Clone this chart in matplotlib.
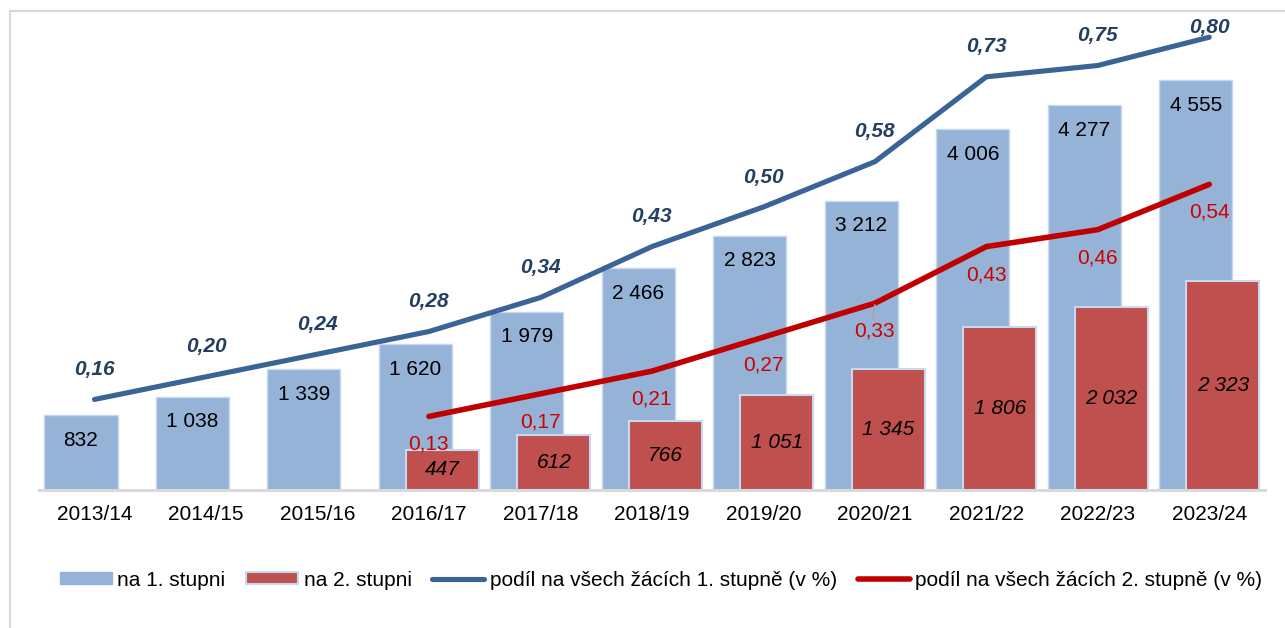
import numpy as np
import matplotlib
matplotlib.use("Agg")
import matplotlib.pyplot as plt
from matplotlib.patches import Patch
from matplotlib.lines import Line2D
from matplotlib.transforms import offset_copy

plt.rcParams['font.family'] = ['Liberation Sans', 'DejaVu Sans']

years = ["2013/14", "2014/15", "2015/16", "2016/17", "2017/18", "2018/19",
         "2019/20", "2020/21", "2021/22", "2022/23", "2023/24"]
stupen1 = [832, 1038, 1339, 1620, 1979, 2466, 2823, 3212, 4006, 4277, 4555]
stupen2 = [np.nan, np.nan, np.nan, 447, 612, 766, 1051, 1345, 1806, 2032, 2323]
podil1 = [0.16, 0.20, 0.24, 0.28, 0.34, 0.43, 0.50, 0.58, 0.73, 0.75, 0.80]
podil2 = [np.nan, np.nan, np.nan, 0.13, 0.17, 0.21, 0.27, 0.33, 0.43, 0.46, 0.54]

def fmt_int(v):
    return f"{int(v):,}".replace(",", " ")

def fmt_dec(v):
    return f"{v:.2f}".replace(".", ",")

W, H = 1285, 628
fig = plt.figure(figsize=(W / 100, H / 100), dpi=100)

left_px, right_px = 38.75, 1265
top_px, bottom_px = 12, 490
ax = fig.add_axes([left_px / W, 1 - bottom_px / H,
                   (right_px - left_px) / W, (bottom_px - top_px) / H])
ax2 = ax.twinx()

BLUE_BAR = "#95B3D7"
RED_BAR = "#C0504D"
BLUE_LINE = "#3A6496"
RED_LINE = "#C00000"
BLUE_TXT = "#243F60"
RED_TXT = "#D00000"
FS = 15

x = np.arange(len(years))
bw = 0.655
off = 0.121

ax.bar(x - off, stupen1, width=bw, color=BLUE_BAR, edgecolor="#C6D9F1",
       linewidth=1.0, zorder=2)
ax.bar(x + off, stupen2, width=bw, color=RED_BAR, edgecolor="#C6D9F1",
       linewidth=1.5, zorder=3)

ax.set_xlim(-0.5, len(years) - 0.5)
ax.set_ylim(0, (bottom_px - top_px) / 0.09)
ax2.set_ylim(0, (bottom_px - top_px) / 566)

for a in (ax, ax2):
    for s in ("top", "right", "left"):
        a.spines[s].set_visible(False)
    a.set_yticks([])
ax2.spines["bottom"].set_visible(False)
ax.spines["bottom"].set_color("#D9D9D9")
ax.spines["bottom"].set_linewidth(2.2)

ax.set_xticks(x)
ax.set_xticklabels(years, fontsize=FS)
ax.tick_params(axis="x", length=0, pad=11)

# bar labels
for xi, v in zip(x, stupen1):
    t = offset_copy(ax.transData, fig=fig, x=0, y=-25, units="dots")
    ax.text(xi - off, v, fmt_int(v), transform=t, ha="center", va="center",
            fontsize=FS, color="black", zorder=5)
for xi, v in zip(x, stupen2):
    if np.isnan(v):
        continue
    ax.text(xi + off, v / 2, fmt_int(v), ha="center", va="center",
            fontsize=FS, style="italic", color="black", zorder=5)

# lines
ax2.plot(x, podil1, color=BLUE_LINE, lw=3.7, solid_capstyle="round",
         solid_joinstyle="round", zorder=4)
ax2.plot(x, podil2, color=RED_LINE, lw=4.0, solid_capstyle="round",
         solid_joinstyle="round", zorder=4)

fig.canvas.draw()
top_limit_disp = H - 27  # display y (from bottom) of highest label centre
for xi, v in zip(x, podil1):
    px, py = ax2.transData.transform((xi, v))
    ly = min(py + 30, top_limit_disp)
    ax2.text(px, ly, fmt_dec(v), transform=None, ha="center", va="center",
             fontsize=FS, fontweight="bold", style="italic", color=BLUE_TXT,
             zorder=6)
for xi, v in zip(x, podil2):
    if np.isnan(v):
        continue
    t = offset_copy(ax2.transData, fig=fig, x=0, y=-28, units="dots")
    ax2.text(xi, v, fmt_dec(v), transform=t, ha="center", va="center",
             fontsize=FS, color=RED_TXT, zorder=6)

# small leader line of the moved 0,33 label
i33 = years.index("2020/21")
px, py = ax2.transData.transform((x[i33], podil2[i33]))
ax2.add_line(Line2D([px, px - 2], [py - 2, py - 16], transform=None,
                    color="#A6A6A6", lw=1.2, zorder=5))

# frame border lines (top and left)
fig.add_artist(Line2D([9.5 / W, 1], [1 - 11 / H, 1 - 11 / H],
                      transform=fig.transFigure, color="#D9D9D9", lw=1.5))
fig.add_artist(Line2D([9.5 / W, 9.5 / W], [0, 1 - 11 / H],
                      transform=fig.transFigure, color="#D9D9D9", lw=1.5))

handles = [
    Patch(facecolor=BLUE_BAR, edgecolor=BLUE_BAR, label="na 1. stupni"),
    Patch(facecolor=RED_BAR, edgecolor="#C6D9F1", linewidth=1.5, label="na 2. stupni"),
    Line2D([], [], color=BLUE_LINE, lw=3.7, solid_capstyle="round",
           label="podíl na všech žácích 1. stupně (v %)"),
    Line2D([], [], color=RED_LINE, lw=4.0, solid_capstyle="round",
           label="podíl na všech žácích 2. stupně (v %)"),
]
fig.legend(handles=handles, loc="center", bbox_to_anchor=(661 / W, 1 - 580 / H),
           ncol=4, frameon=False, fontsize=FS, handlelength=2.5,
           handleheight=0.55, handletextpad=0.25, columnspacing=1.0,
           borderaxespad=0)

fig.savefig("out.png", dpi=100)
